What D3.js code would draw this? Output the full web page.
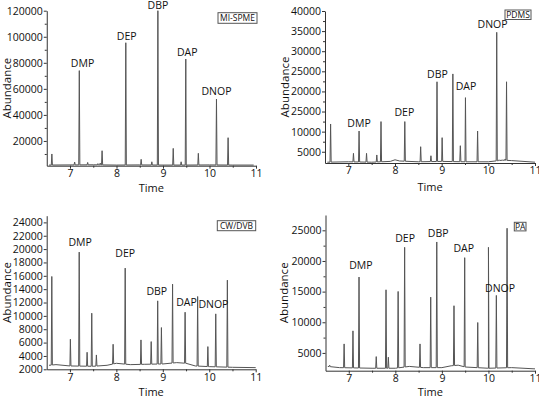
<!DOCTYPE html>
<html>
<head>
<meta charset="utf-8">
<script src="https://cdn.jsdelivr.net/npm/d3@7"></script>
<style>
  body { margin: 0; background: #fff; }
  text { font-family: "Open Sans", sans-serif; fill: #111; }
  .axis path, .axis line { stroke: #333; }
</style>
</head>
<body>
<script>
// shared time axis
const timeDomain = [6.5, 11]
const timeTicks = [7, 8, 9, 10, 11]
const timeMinorTicks = [7.5, 8.5, 9.5, 10.5]

// MI-SPME
const mispmeTicks = [20000, 40000, 60000, 80000, 100000, 120000]
const mispmeTickLabels = ["20000", "40000", "60000", "80000", "100000", "120000"]
const mispmeMinor = [10000, 30000, 50000, 70000, 90000, 110000]
const mispmeBaseline = [[6.55, 1500], [7.0, 1600], [7.5, 1700], [8.0, 1500], [8.5, 1600], [9.0, 1500], [9.5, 1500], [10.0, 1600], [10.5, 1500], [10.95, 1500]]
const mispmePeaks = [[6.61, 10000], [7.1, 3800], [7.2, 74000], [7.38, 3500], [7.6, 2600], [7.65, 3000], [7.69, 12500], [8.2, 95400], [8.53, 5900], [8.76, 4000], [8.89, 120000], [9.22, 14300], [9.39, 4000], [9.49, 82900], [9.76, 10500], [10.15, 52200], [10.4, 22500]]
const mispmeLabels = [["DMP", 7.27, 77000], ["DEP", 8.22, 97300], ["DBP", 8.89, 121600], ["DAP", 9.52, 85200], ["DNOP", 10.15, 55300]]

// PDMS (the 15000 tick is printed as "25000" in the original)
const pdmsTicks = [5000, 10000, 15000, 20000, 25000, 30000, 35000, 40000]
const pdmsTickLabels = ["5000", "10000", "25000", "20000", "25000", "30000", "35000", "40000"]
const pdmsMinor = [7500, 12500, 17500, 22500, 27500, 32500, 37500]
const pdmsBaseline = [[6.55, 2400], [7.0, 2500], [7.5, 2400], [7.9, 2600], [8.0, 3000], [8.1, 2700], [8.5, 2500], [9.0, 2600], [9.5, 2500], [10.0, 2500], [10.3, 2900], [10.5, 2800], [11.0, 2400]]
const pdmsPeaks = [[6.62, 11900], [7.11, 4600], [7.23, 10150], [7.39, 4600], [7.61, 4200], [7.7, 12500], [8.21, 12500], [8.55, 6250], [8.77, 4000], [8.9, 22400], [9.01, 8500], [9.24, 24350], [9.4, 6500], [9.51, 18450], [9.77, 10150], [10.18, 34700], [10.23, 3000], [10.36, 3200], [10.39, 22400]]
const pdmsLabels = [["DMP", 7.23, 11230], ["DEP", 8.2, 13900], ["DBP", 8.91, 23260], ["DAP", 9.52, 20350], ["DNOP", 10.09, 35700]]

// CW/DVB
const cwdvbTicks = [2000, 4000, 6000, 8000, 10000, 12000, 14000, 16000, 18000, 20000, 22000, 24000]
const cwdvbTickLabels = cwdvbTicks.map(String)
const cwdvbMinor = []
const cwdvbBaseline = [[6.55, 2600], [6.7, 2700], [7.0, 2500], [7.5, 2450], [7.8, 2600], [8.0, 2900], [8.3, 2700], [8.6, 2750], [9.0, 2800], [9.3, 3000], [9.5, 2900], [9.7, 2500], [10.0, 2400], [10.5, 2300], [11.0, 2250]]
const cwdvbPeaks = [[6.61, 15900], [7.01, 6500], [7.2, 19550], [7.37, 4550], [7.47, 10400], [7.57, 4150], [7.93, 5750], [8.19, 17150], [8.53, 6400], [8.75, 6150], [8.89, 12250], [8.97, 8250], [9.21, 14750], [9.48, 10550], [9.75, 12900], [9.97, 5400], [10.14, 10300], [10.39, 15350]]
const cwdvbLabels = [["DMP", 7.22, 20460], ["DEP", 8.19, 18770], ["DBP", 8.87, 13120], ["DAP", 9.51, 11480], ["DNOP", 10.09, 11130]]

// PA
const paTicks = [5000, 10000, 15000, 20000, 25000]
const paTickLabels = ["5000", "10000", "15000", "20000", "25000"]
const paMinor = [7500, 12500, 17500, 22500]
const paBaseline = [[6.55, 2800], [6.8, 2600], [7.5, 2500], [8.0, 2500], [8.3, 2800], [8.6, 2600], [9.0, 2600], [9.2, 2900], [9.35, 3000], [9.5, 2700], [10.0, 2500], [10.5, 2600], [11.0, 2400]]
const paPeaks = [[6.59, 3000], [6.9, 6470], [7.09, 8600], [7.22, 17380], [7.59, 4400], [7.8, 15300], [7.85, 4300], [8.06, 15030], [8.2, 22230], [8.53, 6470], [8.76, 14100], [8.89, 23100], [9.26, 12700], [9.49, 20540], [9.77, 9960], [10.0, 22230], [10.17, 14380], [10.4, 25340]]
const paLabels = [["DMP", 7.26, 18700], ["DEP", 8.21, 23140], ["DBP", 8.92, 23960], ["DAP", 9.47, 21500], ["DNOP", 10.25, 15000]]

const peakHalfWidth = 0.012

const svg = d3.select("body").append("svg")
    .attr("width", 539)
    .attr("height", 398)

const panels = [
    { name: "MI-SPME", ticks: mispmeTicks, tickLabels: mispmeTickLabels, minor: mispmeMinor, baseline: mispmeBaseline, peaks: mispmePeaks, labels: mispmeLabels,
      yDomain: [1000, 120000], left: 46.75, right: 256, top: 10.7, bottom: 165.7, titleX: 7, timeY: 192, box: [218, 12.7, 39, 10.6] },
    { name: "PDMS", ticks: pdmsTicks, tickLabels: pdmsTickLabels, minor: pdmsMinor, baseline: pdmsBaseline, peaks: pdmsPeaks, labels: pdmsLabels,
      yDomain: [2200, 40000], left: 325, right: 535, top: 11, bottom: 163, titleX: 285, timeY: 191, box: [505, 10, 26, 9.5] },
    { name: "CW/DVB", ticks: cwdvbTicks, tickLabels: cwdvbTickLabels, minor: cwdvbMinor, baseline: cwdvbBaseline, peaks: cwdvbPeaks, labels: cwdvbLabels,
      yDomain: [2000, 25000], left: 46.7, right: 255.7, top: 215.7, bottom: 369.3, titleX: 7, timeY: 396, box: [217.3, 220.7, 38.4, 10] },
    { name: "PA", ticks: paTicks, tickLabels: paTickLabels, minor: paMinor, baseline: paBaseline, peaks: paPeaks, labels: paLabels,
      yDomain: [2100, 27500], left: 325.5, right: 535, top: 215, bottom: 370.7, titleX: 284, timeY: 396, box: [514.3, 222.3, 11.7, 8.6] }
]

panels.forEach(drawPanel)

function drawPanel(p) {
    const x = d3.scaleLinear().domain(timeDomain).range([p.left, p.right])
    const y = d3.scaleLinear().domain(p.yDomain).range([p.bottom, p.top])
    const g = svg.append("g")

    // baseline level under each peak foot
    const base = d3.scaleLinear()
        .domain(p.baseline.map(d => d[0]))
        .range(p.baseline.map(d => d[1]))
        .clamp(true)

    let pts = p.baseline.map(d => [d[0], d[1]])
    p.peaks.forEach(([t, h]) => {
        pts.push([t - peakHalfWidth, base(t - peakHalfWidth)], [t, h], [t + peakHalfWidth, base(t + peakHalfWidth)])
    })
    pts.sort((a, b) => a[0] - b[0])

    g.append("path")
        .attr("d", d3.line().x(d => x(d[0])).y(d => y(d[1]))(pts))
        .attr("fill", "none")
        .attr("stroke", "#555")
        .attr("stroke-width", 1)
        .attr("stroke-linejoin", "round")

    // axes
    const xAxis = g.append("g")
        .attr("class", "axis")
        .attr("transform", `translate(0,${p.bottom})`)
        .call(d3.axisBottom(x).tickValues(timeTicks).tickSize(3).tickSizeOuter(0).tickPadding(1).tickFormat(d3.format("d")))
    xAxis.selectAll("text").attr("font-size", "10.5px")

    g.append("g")
        .attr("class", "axis")
        .attr("transform", `translate(0,${p.bottom})`)
        .call(d3.axisBottom(x).tickValues(timeMinorTicks).tickSize(2).tickFormat(""))
        .select(".domain").remove()

    const yAxis = g.append("g")
        .attr("class", "axis")
        .attr("transform", `translate(${p.left},0)`)
        .call(d3.axisLeft(y).tickValues(p.ticks).tickSize(3).tickSizeOuter(0).tickPadding(1)
            .tickFormat((d, i) => p.tickLabels[i]))
    yAxis.selectAll("text").attr("font-size", "10.5px")

    if (p.minor.length) {
        g.append("g")
            .attr("class", "axis")
            .attr("transform", `translate(${p.left},0)`)
            .call(d3.axisLeft(y).tickValues(p.minor).tickSize(2).tickFormat(""))
            .select(".domain").remove()
    }

    // axis titles
    g.append("text")
        .attr("transform", `translate(${p.titleX},${(p.top + p.bottom) / 2}) rotate(-90)`)
        .attr("text-anchor", "middle")
        .attr("dy", "0.35em")
        .attr("font-size", "11.5px")
        .text("Abundance")

    g.append("text")
        .attr("x", (p.left + p.right) / 2)
        .attr("y", p.timeY)
        .attr("text-anchor", "middle")
        .attr("font-size", "11px")
        .text("Time")

    // peak names
    g.selectAll("text.peak")
        .data(p.labels)
        .enter()
        .append("text")
        .attr("class", "peak")
        .attr("x", d => x(d[1]))
        .attr("y", d => y(d[2]))
        .attr("text-anchor", "middle")
        .attr("font-size", "10.5px")
        .text(d => d[0])

    // fibre name box
    const [bx, by, bw, bh] = p.box
    g.append("rect")
        .attr("x", bx).attr("y", by)
        .attr("width", bw).attr("height", bh)
        .attr("fill", "#fff")
        .attr("stroke", "#555")
        .attr("stroke-width", 1)
    g.append("text")
        .attr("x", bx + bw / 2)
        .attr("y", by + bh / 2)
        .attr("dy", "0.35em")
        .attr("text-anchor", "middle")
        .attr("font-size", "8.5px")
        .text(p.name)
}
</script>
</body>
</html>
